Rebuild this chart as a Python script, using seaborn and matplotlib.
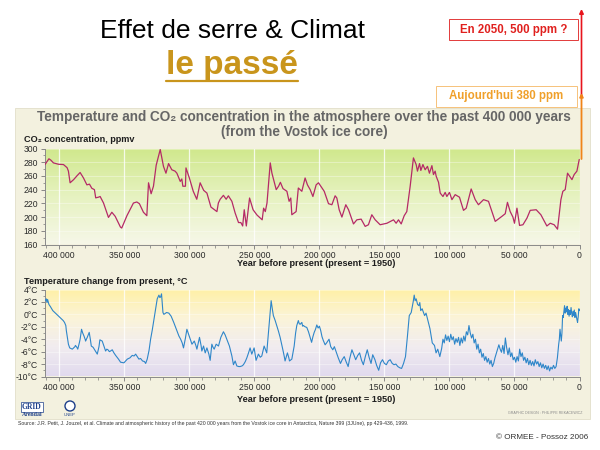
import numpy as np
import pandas as pd
import matplotlib
matplotlib.use("Agg")
import matplotlib.pyplot as plt
import seaborn as sns
from matplotlib.colors import LinearSegmentedColormap
from matplotlib.patches import Rectangle, FancyArrowPatch, Ellipse
from matplotlib.lines import Line2D

# ---------------- data ----------------
co2_age_kyr = [
    411, 408, 406.5, 404.5, 400.6, 396.8, 394, 393, 391.7, 389,
    386.5, 384, 381.4, 378.8, 376.8, 375, 373, 372, 369.9, 368.6,
    366, 362.2, 359.6, 357, 353, 352, 348, 343, 340.4, 338.4,
    335.3, 332.7, 331.4, 329.4, 327.6, 325.5, 322.4, 319.9, 318, 316,
    313.5, 311, 309.6, 307, 305.8, 305, 303, 302.6, 300, 297,
    294.3, 291.7, 289, 286.5, 283.4, 278.8, 277.7, 276.3, 273.8, 271.7,
    270, 267.3, 264.8, 262.2, 260.4, 259, 257.8, 256.2, 253.7, 251,
    248, 244, 242.9, 241.6, 240.3, 237.8, 236.5, 233.2, 231.4, 230,
    228, 225, 223.3, 222, 221.2, 217.9, 216.2, 213.5, 211, 209.2,
    207.1, 205, 202.5, 200.7, 198.9, 196.3, 193, 190.4, 187.9, 186.6,
    184.8, 182.7, 179.7, 177.6, 173.8, 171.2, 167.9, 164.8, 162.3, 159.7,
    157.1, 153.3, 148.1, 143, 141, 139.2, 137.1, 134.8, 132.8, 130.2,
    127.7, 125.6, 124.6, 123, 122, 120.4, 118.7, 116.9, 115.4, 113.5,
    112.3, 111, 110.2, 108.4, 107.1, 105, 103.3, 102, 100, 98.1,
    95.6, 92.3, 89.2, 87.1, 83.3, 80.2, 77.7, 73.8, 70, 64.8,
    59.7, 57.1, 55.4, 53.3, 51.2, 50, 48.1, 46.1, 43.5, 40.4,
    37.9, 33.3, 29.7, 25.1, 22.5, 19.5, 16.9, 14.3, 12.8, 11,
    9.2, 5.8, 4.1, 2, 0.2,
]
co2_ppmv = [
    276.6, 285, 283, 279, 277, 276.6, 272, 267, 250, 254.6,
    260, 265, 257, 247, 248, 242, 240, 228, 229, 230,
    220.5, 199.5, 207, 201, 185.4, 184, 202, 220.5, 222, 219.5,
    207, 202, 250, 234, 245, 275.6, 298.5, 274, 264, 278,
    269, 267, 264, 252, 255.6, 245, 245, 271.7, 257, 237.6,
    226, 250, 239, 235, 214.6, 208, 220.5, 226, 231.7, 226,
    231, 223, 206, 192, 192, 187, 210.7, 187, 227.8, 210.7,
    203, 196, 213, 208, 220.5, 279, 264, 240, 245, 250.7,
    241.5, 237.6, 223, 227.8, 203.4, 208, 242.4, 237.6, 257, 247,
    240, 230, 247, 250, 245, 237.6, 219.5, 218, 231, 227.8,
    210.7, 200, 218, 210.7, 190, 196, 197, 186.4, 188.8, 203.4,
    196, 188.8, 191, 196, 191, 196, 190, 202, 208, 245,
    286.3, 276.6, 267, 278, 268, 276.6, 269, 274, 264, 275,
    262, 267, 259.5, 250.7, 235, 230, 236, 230, 236, 225.4,
    232.7, 229, 209.8, 213, 241, 225.4, 218, 225.4, 223, 193.7,
    201, 204.9, 221.5, 208, 200, 191, 213, 187.8, 188.8, 198.5,
    209.8, 210.7, 203.4, 187, 191, 188.8, 182.4, 225.4, 237.6, 240,
    264, 254.6, 262, 267, 284,
]

temp_age_kyr = [
    411, 410, 409.5, 409, 408, 407, 405, 403, 401, 399,
    397, 396, 395, 394.6, 394, 393, 392, 391, 390, 389,
    388, 387.6, 386.5, 385.8, 384.5, 384, 382.9, 382, 381, 380,
    379.8, 378.5, 377, 376, 375.4, 374, 373.4, 372, 370.8, 369.5,
    368.8, 367, 365.7, 364.4, 363.5, 362.6, 361.5, 360.6, 359.3, 358,
    356.7, 354.5, 352.9, 350.3, 349, 347.7, 345.7, 343.9, 342.5, 341.3,
    340, 338.8, 337.5, 336, 334.5, 333.6, 332.4, 331, 329.8, 328.5,
    327.3, 326, 324.7, 323.4, 322.7, 322.1, 321.4, 320.3, 319.6, 319,
    317.5, 315.8, 314, 312, 310, 308, 306.7, 305.5, 304.5, 303,
    301.9, 300.6, 299, 298, 296.2, 295, 294.2, 292.2, 291, 290.4,
    289.1, 287.8, 286.5, 285, 284, 282.7, 281.8, 280.9, 279.4, 277.6,
    275.8, 273.8, 272.5, 271.2, 269.2, 267.3, 266.1, 264.8, 263.5, 262,
    261, 259.5, 258.4, 257, 255.8, 254.5, 253.3, 252, 250.2, 248.7,
    246.9, 245.5, 244.3, 242.5, 240.5, 239.2, 238, 237.1, 236.3, 235.4,
    234, 232.8, 231.5, 230.2, 228.2, 227, 226.4, 224.6, 223.5, 223,
    221.2, 220.2, 219.4, 218.3, 217.4, 216.2, 215.5, 214.8, 213.5, 212.9,
    212.3, 211, 209.7, 208.4, 207.1, 206, 205, 204, 203, 202,
    201, 200, 199, 198, 197, 195.6, 194.5, 192.6, 191.3, 189.7,
    188.5, 186.8, 185.5, 183.8, 182.5, 180.9, 179.5, 177.9, 176.8, 175,
    173.5, 172.1, 170.5, 169.1, 167.6, 166.2, 164.7, 163.2, 161.8, 160.3,
    159, 157.3, 156, 154.4, 153, 151.5, 150, 148.5, 147, 145.6,
    144, 142.6, 141.2, 139.7, 138.2, 136.8, 135.3, 133.8, 132.3, 130.9,
    129.4, 127.9, 127.1, 126.4, 125.6, 124.5, 123.5, 122.8, 122.1, 121,
    119.1, 118, 116.2, 115, 113.2, 111.5, 110.3, 109, 107.4, 106,
    105, 104, 103, 102, 101, 100, 99, 98, 97, 96,
    95, 94, 93, 92, 91, 90, 89, 88, 87, 86,
    85, 84, 83, 82, 81, 80, 79, 78, 77, 76,
    75, 74, 73, 72, 71, 70, 69, 68, 67, 66,
    65, 64, 63, 62, 61, 60, 59, 58, 57, 56,
    55, 54, 53, 52, 51, 50, 49, 48, 47, 46,
    45, 44, 43, 42, 41, 40, 39, 38, 37, 36,
    35, 34, 33, 32, 31, 30, 29, 28, 27, 26,
    25, 24, 23, 22, 21, 20, 19, 18, 17, 16,
    15.5, 15, 14.5, 14, 13.5, 13, 12.5, 12, 11.5, 11,
    10.5, 10, 9.5, 9, 8.5, 8, 7.5, 7, 6.5, 6,
    5.5, 5, 4.5, 4, 3.5, 3, 2, 1.5, 1, 0.5,
    0,
]
temp_change_c = [
    2.2, 2.5, 1.9, 2.4, 1.6, 1.3, 0.6, 0.2, -0.2, -0.6,
    -1.0, -1.3, -1.8, -2.6, -3.4, -4.8, -5.4, -5.5, -5.6, -5.4,
    -5.2, -5.0, -5.3, -5.6, -4.5, -4.0, -2.4, -3.0, -3.5, -4.1,
    -4.3, -3.7, -2.9, -4.2, -5.1, -5.3, -5.5, -6.0, -6.4, -5.2,
    -4.1, -4.3, -5.1, -5.9, -5.6, -5.7, -6.0, -5.9, -5.7, -6.2,
    -6.6, -7.2, -7.7, -7.8, -7.5, -7.2, -7.0, -6.6, -6.7, -6.4,
    -6.8, -7.2, -7.1, -7.5, -7.6, -7.9, -7.2, -5.8, -4.0, -2.5,
    -1.0, 0.8, 2.5, 3.1, 2.7, 2.8, 3.3, 0.3, 0.0, 0.1,
    0.3, 0.2, -0.3, -1.3, -2.4, -3.5, -4.0, -4.6, -5.4, -3.8,
    -2.4, -3.2, -4.2, -4.8, -4.3, -5.0, -5.6, -3.7, -5.0, -5.9,
    -5.1, -6.2, -5.4, -6.4, -7.4, -4.8, -5.3, -5.6, -4.8, -5.1,
    -3.7, -2.8, -3.3, -4.0, -5.1, -6.7, -8.1, -7.5, -8.3, -8.4,
    -8.4, -8.3, -8.1, -7.6, -7.0, -6.2, -5.4, -6.4, -5.4, -7.4,
    -6.4, -6.9, -6.7, -5.1, -6.2, -2.9, 0.0, 2.2, 1.0, -0.2,
    -1.0, -1.8, -2.7, -3.7, -5.6, -6.8, -7.5, -6.2, -7.0, -7.5,
    -7.2, -6.0, -5.1, -3.0, -1.8, -1.0, -1.5, -1.6, -1.3, -1.9,
    -1.8, -2.0, -2.1, -2.8, -3.7, -4.5, -3.6, -2.9, -2.4, -1.7,
    -2.2, -1.9, -2.6, -3.6, -4.2, -4.9, -4.6, -4.0, -5.2, -5.7,
    -5.2, -6.2, -7.0, -7.9, -7.3, -6.8, -7.6, -8.4, -7.2, -5.7,
    -6.5, -7.3, -6.6, -6.2, -7.4, -8.1, -6.8, -5.7, -6.9, -7.9,
    -6.5, -7.3, -8.2, -9.0, -7.8, -7.3, -7.9, -8.1, -7.5, -7.3,
    -7.9, -8.1, -8.0, -8.4, -8.6, -8.7, -7.9, -6.8, -3.5, -0.2,
    0.3, 2.0, 3.1, 2.2, 2.5, 1.6, 1.4, 1.9, 0.6, 0.9,
    -0.2, 0.2, -1.3, -2.3, -4.6, -5.0, -6.2, -5.6, -6.8, -5.5,
    -4.0, -4.6, -3.3, -4.2, -3.5, -4.4, -3.2, -4.1, -3.6, -4.8,
    -3.9, -4.5, -3.7, -5.0, -3.8, -4.6, -3.5, -4.3, -2.8, -3.3,
    -1.8, -3.0, -3.8, -3.2, -4.6, -4.0, -5.6, -4.8, -6.2, -5.6,
    -6.9, -6.3, -7.4, -6.8, -7.7, -7.1, -8.0, -7.4, -8.4, -7.9,
    -7.0, -6.3, -5.6, -4.9, -5.6, -6.1, -5.0, -6.3, -3.8, -5.4,
    -6.5, -5.4, -6.8, -6.2, -7.3, -6.9, -7.7, -6.8, -7.5, -5.6,
    -6.8, -6.2, -7.4, -6.9, -7.8, -7.1, -8.1, -7.4, -8.2, -7.6,
    -8.3, -7.3, -8.0, -7.6, -8.4, -7.8, -8.6, -8.0, -8.7, -8.2,
    -8.9, -8.3, -9.1, -8.5, -8.8, -8.2, -8.7, -8.4, -7.0, -4.8,
    -4.0, -2.4, -3.4, -4.3, -3.0, -0.2, -0.5, 0.5, 1.4, 0.2,
    1.0, 0.4, 1.3, 0.0, 0.8, -0.3, 0.6, 0.0, 1.1, 0.2,
    -0.4, 0.5, -0.2, 0.7, -0.5, 0.3, -0.8, -1.3, -0.4, 0.9,
    0.6,
]

x_ticks_kyr = [400, 350, 300, 250, 200, 150, 100, 50, 0]
x_tick_labels = ["400 000", "350 000", "300 000", "250 000", "200 000",
                 "150 000", "100 000", "50 000", "0"]
co2_ticks = [300, 280, 260, 240, 220, 200, 180, 160]
temp_ticks = [4, 2, 0, -2, -4, -6, -8, -10]
temp_tick_labels = ["4°C", "2°C", "0°C", "-2°C", "-4°C", "-6°C", "-8°C", "-10°C"]

co2_df = pd.DataFrame({"age": co2_age_kyr, "ppmv": co2_ppmv})
temp_df = pd.DataFrame({"age": temp_age_kyr, "dT": temp_change_c})

# ---------------- style ----------------
sns.set_style("ticks")
plt.rcParams["font.family"] = ["Liberation Sans", "DejaVu Sans"]

W, H = 600, 450
fig = plt.figure(figsize=(6, 4.5), dpi=100)
fig.patch.set_facecolor("white")


def fx(x):
    return x / W


def fy(y):
    return 1 - y / H


# beige background panel
fig.add_artist(Rectangle((fx(15), fy(419)), fx(590) - fx(15), fy(108) - fy(419),
                         transform=fig.transFigure, facecolor="#f3f1df",
                         edgecolor="#e2dfca", lw=0.6, zorder=-5))

XMAX = 411
ax1 = fig.add_axes([fx(45), fy(244.5), fx(579.5) - fx(45), fy(148.5) - fy(244.5)])
ax2 = fig.add_axes([fx(45), fy(376.5), fx(579.5) - fx(45), fy(289.5) - fy(376.5)])

cmap_co2 = LinearSegmentedColormap.from_list("co2", ["#d0e88c", "#e6f2c0", "#f6f7e8"])
cmap_t = LinearSegmentedColormap.from_list("t", ["#fff0a6", "#fbf4d8", "#f1ecf0", "#e1daee"])
grad = np.linspace(0, 1, 256).reshape(-1, 1)


def style_axes(ax, ymin, ymax, cmap, yticks, yticklabels, yminor):
    ax.imshow(grad, extent=[XMAX, 0, ymin, ymax], aspect="auto", cmap=cmap,
              zorder=0, interpolation="bicubic")
    ax.set_xlim(XMAX, 0)
    ax.set_ylim(ymin, ymax)
    for xv in x_ticks_kyr:
        ax.axvline(xv, color="white", lw=0.9, alpha=0.8, zorder=1)
    for yv in yticks:
        ax.axhline(yv, color="white", lw=0.5, alpha=0.5, zorder=1)
    ax.set_xticks(x_ticks_kyr)
    ax.set_xticklabels(x_tick_labels)
    ax.set_xticks(np.arange(0, XMAX, 10), minor=True)
    ax.set_yticks(yticks)
    ax.set_yticklabels(yticklabels)
    ax.set_yticks(yminor, minor=True)
    ax.tick_params(axis="both", which="major", length=3, width=0.6, color="#777777",
                   labelsize=6.2, labelcolor="#2a2a2a", pad=2)
    ax.tick_params(axis="both", which="minor", length=1.8, width=0.5, color="#777777")
    for s in ["top", "right"]:
        ax.spines[s].set_visible(False)
    for s in ["left", "bottom"]:
        ax.spines[s].set_color("#8a8a8a")
        ax.spines[s].set_linewidth(0.7)
    ax.set_xlabel("")
    ax.set_ylabel("")
    ax.set_facecolor("none")


sns.lineplot(data=co2_df, x="age", y="ppmv", ax=ax1, color="#b52a66",
             lw=0.9, errorbar=None, zorder=3)
style_axes(ax1, 160, 300, cmap_co2, co2_ticks, [str(v) for v in co2_ticks],
           np.arange(160, 301, 10))

sns.lineplot(data=temp_df, x="age", y="dT", ax=ax2, color="#2e86c9",
             lw=0.8, errorbar=None, zorder=3)
style_axes(ax2, -10, 4, cmap_t, temp_ticks, temp_tick_labels, np.arange(-10, 5, 1))

# axis titles
fig.text(fx(24), fy(140), "CO₂ concentration, ppmv", fontsize=6.6, fontweight="bold",
         color="#1e1e1e", ha="left", va="center")
fig.text(fx(24), fy(281), "Temperature change from present, °C", fontsize=6.6,
         fontweight="bold", color="#1e1e1e", ha="left", va="center")
for yy in (264, 400):
    fig.text(fx(316), fy(yy), "Year before present (present = 1950)", fontsize=6.6,
             fontweight="bold", color="#1e1e1e", ha="center", va="center")

# panel title
fig.text(fx(304), fy(117), "Temperature and CO₂ concentration in the atmosphere over the past 400 000 years",
         fontsize=9.8, fontweight="bold", color="#666666", ha="center", va="center")
fig.text(fx(304), fy(132), "(from the Vostok ice core)", fontsize=9.8, fontweight="bold",
         color="#666666", ha="center", va="center")

# slide titles
fig.text(fx(232), fy(38), "Effet de serre & Climat", fontsize=19, color="black",
         ha="center", va="baseline")
fig.text(fx(232), fy(74), "le passé", fontsize=24, fontweight="bold", color="#c9951c",
         ha="center", va="baseline")
fig.add_artist(Line2D([fx(166), fx(298)], [fy(81), fy(81)], color="#c9951c", lw=1.6,
                      transform=fig.transFigure))

# annotation boxes
fig.add_artist(Rectangle((fx(449), fy(40)), fx(578) - fx(449), fy(19) - fy(40),
                         transform=fig.transFigure, facecolor="white",
                         edgecolor="#e23a3a", lw=0.7))
fig.text(fx(513.5), fy(29.5), "En 2050, 500 ppm ?", fontsize=8.3, fontweight="bold",
         color="#e0201e", ha="center", va="center")
fig.add_artist(Rectangle((fx(436), fy(107)), fx(577) - fx(436), fy(86) - fy(107),
                         transform=fig.transFigure, facecolor="white",
                         edgecolor="#f6c27a", lw=0.7))
fig.text(fx(506.5), fy(96.5), "Aujourd'hui 380 ppm", fontsize=8.3, fontweight="bold",
         color="#f0a02a", ha="center", va="center")

# arrows
fig.add_artist(FancyArrowPatch((fx(581.5), fy(96)), (fx(581.5), fy(9)),
                               transform=fig.transFigure, arrowstyle="-|>",
                               mutation_scale=6, color="#e8141c", lw=1.2,
                               shrinkA=0, shrinkB=0))
fig.add_artist(FancyArrowPatch((fx(581.5), fy(159)), (fx(581.5), fy(93)),
                               transform=fig.transFigure, arrowstyle="-|>",
                               mutation_scale=5, color="#f08418", lw=1.3,
                               shrinkA=0, shrinkB=0))

# logos (GRID-Arendal, UNEP)
fig.text(fx(22), fy(407), "GRID", fontsize=5.5, family="Liberation Serif",
         fontweight="bold", color="#1d3f8a", ha="left", va="center",
         bbox=dict(boxstyle="square,pad=0.12", fc="white", ec="#1d3f8a", lw=0.5))
fig.text(fx(22), fy(414.5), "Arendal", fontsize=4.2, family="Liberation Serif",
         fontweight="bold", color="#1d3f8a", ha="left", va="center")
fig.add_artist(Ellipse((fx(70), fy(406)), fx(10), 10 / H, transform=fig.transFigure,
                       facecolor="white", edgecolor="#1d3f8a", lw=1.0))
fig.text(fx(70), fy(414.5), "UNEP", fontsize=3, color="#1d3f8a", ha="center", va="center")

fig.text(fx(582), fy(413), "GRAPHIC DESIGN : PHILIPPE REKACEWICZ", fontsize=2.6,
         color="#8a8a8a", ha="right", va="center")

# source and credit
fig.text(fx(18), fy(423.5),
         "Source: J.R. Petit, J. Jouzel, et al. Climate and atmospheric history of the past 420 000 years "
         "from the Vostok ice core in Antarctica, Nature 399 (3JUne), pp 429-436, 1999.",
         fontsize=3.7, color="#333333", ha="left", va="center")
fig.text(fx(588), fy(437.5), "© ORMEE - Possoz 2006", fontsize=5.9, color="#333333",
         ha="right", va="center")

fig.savefig("out.png", dpi=100)
